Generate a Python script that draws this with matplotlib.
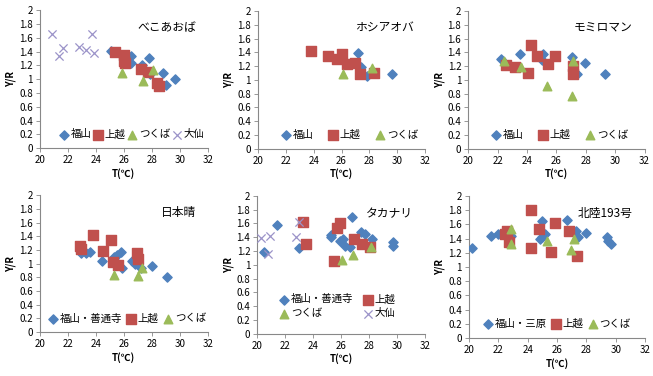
import matplotlib
matplotlib.use('Agg')
import matplotlib.pyplot as plt
from matplotlib.ticker import FuncFormatter

plt.rcParams['font.family'] = ['Noto Sans CJK JP', 'DejaVu Sans']

# ---- データ (T, Y/R) ----
# べこあおば
beko_fuku_t = [25.1, 26.5, 26.5, 27.3, 27.8, 27.9, 28.8, 29.0, 29.7]
beko_fuku_y = [1.41, 1.33, 1.23, 1.21, 1.30, 1.08, 1.09, 0.92, 1.00]
beko_joe_t = [25.4, 26.0, 26.0, 26.1, 27.2, 27.7, 28.4, 28.5]
beko_joe_y = [1.39, 1.35, 1.27, 1.24, 1.15, 1.11, 0.95, 0.90]
beko_tsu_t = [25.9, 27.4, 28.1]
beko_tsu_y = [1.09, 0.98, 1.13]
beko_dai_t = [20.85, 21.4, 21.65, 22.8, 23.3, 23.7, 23.9]
beko_dai_y = [1.66, 1.34, 1.45, 1.47, 1.42, 1.66, 1.38]

# ホシアオバ
hoshi_fuku_t = [27.2, 27.4, 27.8, 29.6]
hoshi_fuku_y = [1.39, 1.19, 1.06, 1.09]
hoshi_joe_t = [23.8, 25.0, 25.7, 26.05, 26.4, 26.95, 27.3, 28.3]
hoshi_joe_y = [1.42, 1.35, 1.30, 1.38, 1.23, 1.25, 1.09, 1.10]
hoshi_tsu_t = [26.1, 28.2]
hoshi_tsu_y = [1.09, 1.17]

# モミロマン
momi_fuku_t = [22.2, 23.55, 25.1, 25.0, 27.05, 27.4, 27.95, 29.3]
momi_fuku_y = [1.31, 1.38, 1.38, 1.29, 1.33, 1.09, 1.24, 1.09]
momi_joe_t = [22.55, 23.2, 24.1, 24.25, 24.7, 25.45, 25.9, 27.1, 27.1]
momi_joe_y = [1.21, 1.19, 1.10, 1.50, 1.34, 1.23, 1.34, 1.20, 1.09]
momi_tsu_t = [22.45, 23.6, 25.35, 27.05, 27.1]
momi_tsu_y = [1.27, 1.18, 0.91, 0.76, 1.27]

# 日本晴
nihon_fuku_t = [22.97, 23.3, 23.56, 24.44, 25.3, 25.5, 25.8, 25.9, 25.6, 26.6, 26.8, 27.25, 28.0, 29.1]
nihon_fuku_y = [1.15, 1.15, 1.17, 1.04, 1.10, 1.12, 1.17, 0.94, 1.00, 1.04, 1.00, 0.94, 0.97, 0.80]
nihon_joe_t = [22.9, 22.97, 23.8, 24.5, 25.1, 25.2, 25.6, 26.96, 27.0]
nihon_joe_y = [1.25, 1.22, 1.42, 1.19, 1.34, 1.03, 0.98, 1.15, 1.06]
nihon_tsu_t = [25.3, 27.0, 27.3]
nihon_tsu_y = [0.83, 0.82, 0.94]

# タカナリ
taka_fuku_t = [20.5, 21.4, 23.0, 25.24, 25.3, 25.9, 26.1, 26.3, 26.6, 26.8, 27.4, 27.7, 28.2, 29.7, 29.7]
taka_fuku_y = [1.19, 1.58, 1.25, 1.44, 1.40, 1.35, 1.37, 1.28, 1.26, 1.70, 1.47, 1.45, 1.37, 1.33, 1.28]
taka_joe_t = [23.26, 23.5, 25.5, 25.7, 25.95, 26.95, 27.5, 28.07]
taka_joe_y = [1.62, 1.30, 1.05, 1.53, 1.60, 1.37, 1.30, 1.26]
taka_tsu_t = [26.07, 26.86, 28.1]
taka_tsu_y = [1.07, 1.15, 1.26]
taka_dai_t = [20.24, 20.9, 20.8, 22.74, 23.0]
taka_dai_y = [1.39, 1.42, 1.16, 1.41, 1.62]

# 北陸193号
hoku_fuku_t = [20.23, 21.5, 22.0, 22.85, 24.85, 25.0, 25.0, 25.2, 26.65, 27.27, 27.45, 27.97, 29.4, 29.5, 29.65]
hoku_fuku_y = [1.27, 1.44, 1.46, 1.44, 1.39, 1.42, 1.65, 1.46, 1.66, 1.51, 1.42, 1.48, 1.42, 1.36, 1.32]
hoku_joe_t = [24.26, 24.26, 22.48, 22.6, 22.75, 24.76, 25.6, 25.88, 26.83, 27.38]
hoku_joe_y = [1.80, 1.27, 1.46, 1.50, 1.35, 1.53, 1.21, 1.62, 1.50, 1.16]
hoku_tsu_t = [22.87, 22.87, 25.35, 26.92, 27.17]
hoku_tsu_y = [1.54, 1.32, 1.36, 1.24, 1.39]

BLUE = '#4F81BD'
RED = '#C0504D'
GREEN = '#9BBB59'
PURPLE = '#9B93C9'


def style_axes(ax, title):
    ax.set_xlim(20, 32)
    ax.set_ylim(0, 2)
    ax.set_xticks(range(20, 33, 2))
    ax.set_yticks([i * 0.2 for i in range(11)])
    ax.yaxis.set_major_formatter(FuncFormatter(lambda v, p: f'{v:g}' if abs(v - round(v)) > 1e-9 else f'{int(round(v))}'))
    ax.tick_params(labelsize=7, length=3, width=0.6, color='#888888', pad=2)
    for side in ['top', 'right']:
        ax.spines[side].set_visible(False)
    for side in ['left', 'bottom']:
        ax.spines[side].set_color('#888888')
        ax.spines[side].set_linewidth(0.8)
    ax.set_xlabel('T(℃)', fontsize=7, fontweight='bold', labelpad=2)
    ax.set_ylabel('Y/R', fontsize=7, fontweight='bold', labelpad=2)
    ax.text(0.93, 0.92, title, transform=ax.transAxes, ha='right', va='top', fontsize=8.5)


def plot_series(ax, fuku, joe, tsu, dai=None, fuku_label='福山'):
    ax.scatter(fuku[0], fuku[1], marker='D', s=22, color=BLUE, label=fuku_label, zorder=3)
    ax.scatter(joe[0], joe[1], marker='s', s=45, color=RED, label='上越', zorder=3)
    ax.scatter(tsu[0], tsu[1], marker='^', s=38, color=GREEN, label='つくば', zorder=3)
    if dai is not None:
        ax.scatter(dai[0], dai[1], marker='x', s=35, color=PURPLE, linewidths=0.9, label='大仙', zorder=3)


def add_legend(ax, ncol, colsp, y=0.1, x=0.5, order=None):
    handles, labels = ax.get_legend_handles_labels()
    if order is not None:
        handles = [handles[i] for i in order]
        labels = [labels[i] for i in order]
    ax.legend(handles, labels, loc='center', bbox_to_anchor=(x, y), ncol=ncol, frameon=False,
              fontsize=7.5, handlelength=0.8, handletextpad=0.25, columnspacing=colsp,
              labelspacing=0.4, borderaxespad=0, borderpad=0)


fig = plt.figure(figsize=(6.53, 3.76), dpi=100)

positions = [
    [0.061, 0.606, 0.257, 0.367],
    [0.395, 0.604, 0.256, 0.367],
    [0.717, 0.604, 0.270, 0.367],
    [0.061, 0.117, 0.257, 0.364],
    [0.394, 0.112, 0.257, 0.367],
    [0.718, 0.101, 0.270, 0.378],
]
axes = [fig.add_axes(p) for p in positions]

# べこあおば
ax = axes[0]
plot_series(ax, (beko_fuku_t, beko_fuku_y), (beko_joe_t, beko_joe_y),
            (beko_tsu_t, beko_tsu_y), (beko_dai_t, beko_dai_y))
style_axes(ax, 'べこあおば')
add_legend(ax, 4, 0.25, x=0.55)

# ホシアオバ
ax = axes[1]
plot_series(ax, (hoshi_fuku_t, hoshi_fuku_y), (hoshi_joe_t, hoshi_joe_y), (hoshi_tsu_t, hoshi_tsu_y))
style_axes(ax, 'ホシアオバ')
add_legend(ax, 3, 1.5, x=0.55)

# モミロマン
ax = axes[2]
plot_series(ax, (momi_fuku_t, momi_fuku_y), (momi_joe_t, momi_joe_y), (momi_tsu_t, momi_tsu_y))
style_axes(ax, 'モミロマン')
add_legend(ax, 3, 1.5, x=0.52)

# 日本晴
ax = axes[3]
plot_series(ax, (nihon_fuku_t, nihon_fuku_y), (nihon_joe_t, nihon_joe_y), (nihon_tsu_t, nihon_tsu_y),
            fuku_label='福山・善通寺')
style_axes(ax, '日本晴')
add_legend(ax, 3, 0.5, x=0.52)

# タカナリ
ax = axes[4]
plot_series(ax, (taka_fuku_t, taka_fuku_y), (taka_joe_t, taka_joe_y), (taka_tsu_t, taka_tsu_y),
            (taka_dai_t, taka_dai_y), fuku_label='福山・善通寺')
style_axes(ax, 'タカナリ')
add_legend(ax, 2, 1.0, y=0.2, x=0.48, order=[0, 2, 1, 3])

# 北陸193号
ax = axes[5]
plot_series(ax, (hoku_fuku_t, hoku_fuku_y), (hoku_joe_t, hoku_joe_y), (hoku_tsu_t, hoku_tsu_y),
            fuku_label='福山・三原')
style_axes(ax, '北陸193号')
add_legend(ax, 3, 0.5)

fig.savefig('out.png', dpi=100)
